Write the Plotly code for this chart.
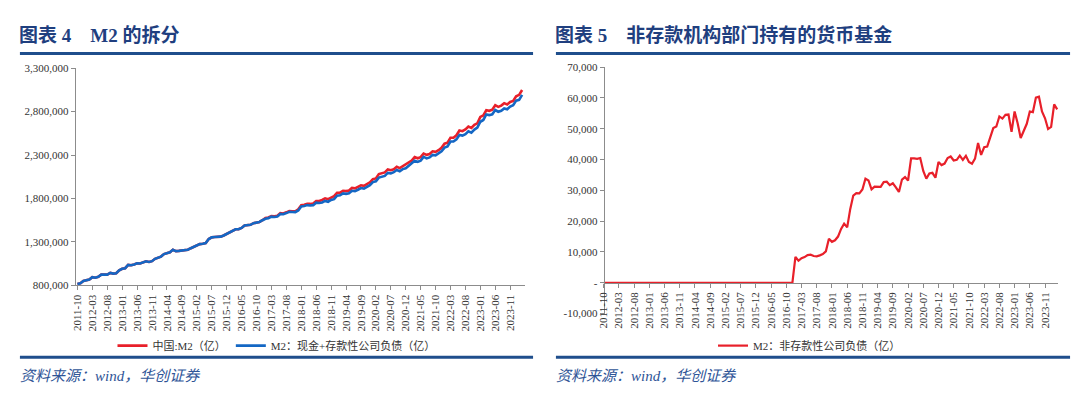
import plotly.graph_objects as go
import pandas as pd

# Monthly categories 2011-10 .. 2024-03
months = [p.strftime("%Y-%m") for p in pd.period_range("2011-10", "2024-03", freq="M")]
tick_labels = months[0:150:5]

# 中国:M2 (亿)
m2_total = [
    816829, 825494, 851591,
    855898, 867171, 895565, 889605, 900049, 924992, 925375, 924894, 943688, 936404, 940460, 974149,
    992129, 998600, 1035858, 1032552, 1042169, 1054404, 1052212, 1061256, 1077379, 1070242, 1079257, 1106525,
    1123521, 1131650, 1160687, 1168812, 1182300, 1209587, 1194249, 1197499, 1202051, 1199236, 1211000, 1228375,
    1242710, 1252300, 1275300, 1280000, 1286700, 1333400, 1353200, 1356900, 1359800, 1361000, 1374900, 1392278,
    1416300, 1424200, 1446200, 1446100, 1461100, 1490500, 1491600, 1497500, 1516400, 1519500, 1530400, 1550067,
    1575900, 1581300, 1599000, 1596300, 1601400, 1631300, 1627600, 1641000, 1655700, 1653400, 1653900, 1676800,
    1722100, 1728000, 1739300, 1737700, 1742600, 1770200, 1772000, 1783000, 1801700, 1791900, 1813200, 1826700,
    1865900, 1867400, 1889400, 1884700, 1891500, 1921400, 1917100, 1932600, 1952100, 1945600, 1965000, 1986500,
    2023100, 2030600, 2080900, 2093500, 2100200, 2134900, 2125500, 2136800, 2164100, 2149700, 2172100, 2186800,
    2213000, 2236000, 2276000, 2262100, 2276000, 2317800, 2302200, 2312300, 2342800, 2336200, 2355200, 2382900,
    2431000, 2441500, 2499400, 2499700, 2527500, 2581500, 2574200, 2595100, 2626600, 2612200, 2647200, 2664300,
    2738100, 2755200, 2814600, 2808500, 2820500, 2873000, 2853600, 2868900, 2896700, 2882300, 2910900, 2922700,
    2976200, 2992500, 3047952,
]

# M2：非存款性公司负债 (亿)
non_deposit = [0] * 63 + [
    8400, 7140, 8000, 8350, 9000, 9100, 8700, 8600, 8900, 9300, 10200, 14300,
    13300, 13800, 15000, 17500, 19200, 18000, 23900, 28300, 29100, 29000, 30300, 33800,
    33200, 30300, 31200, 31100, 31150, 32700, 32800, 31700, 32300, 31000, 29500, 33500,
    34300, 33200, 40400, 40400, 40250, 40500, 36300, 33800, 35500, 35700, 34100, 39200,
    38200, 38700, 40500, 41000, 39700, 39900, 41300, 39900, 41200, 39200, 38650, 40300,
    45400, 41500, 44000, 44200, 47500, 50200, 50700, 54000, 53300, 54500, 54600, 49000,
    55600, 51800, 47000, 49500, 51600, 55600, 55400, 60100, 60400, 55600, 53400, 49900,
    50600, 57900, 56300,
]

# M2：现金+存款性公司负债 = M2 - 非存款性公司负债
m2_deposit = [a - b for a, b in zip(m2_total, non_deposit)]

left_y_ticks = [800000, 1300000, 1800000, 2300000, 2800000, 3300000]
right_y_ticks = [-10000, 0, 10000, 20000, 30000, 40000, 50000, 60000, 70000]
right_y_text = ["-10,000", "-", "10,000", "20,000", "30,000", "40,000", "50,000", "60,000", "70,000"]

RED = "#E8202A"
BLUE = "#1467C4"
NAVY = "#1F3F7F"
W, H = 1080, 404

def px(x):
    return x / W

def py(y):
    return 1 - y / H

fig = go.Figure()
fig.add_trace(go.Scatter(x=months, y=m2_total, mode="lines", name="中国:M2（亿）",
                         line=dict(color=RED, width=2.6), xaxis="x", yaxis="y", legend="legend"))
fig.add_trace(go.Scatter(x=months, y=m2_deposit, mode="lines", name="M2：现金+存款性公司负债（亿）",
                         line=dict(color=BLUE, width=2.6), xaxis="x", yaxis="y", legend="legend"))
fig.add_trace(go.Scatter(x=months, y=non_deposit, mode="lines", name="M2：非存款性公司负债（亿）",
                         line=dict(color=RED, width=2.2), xaxis="x2", yaxis="y2", legend="legend2"))

tickfont = dict(family="Liberation Serif, Noto Sans CJK SC", size=11, color="#333333")
axis_common = dict(showgrid=False, zeroline=False, showline=True, linecolor="#8C8C8C", linewidth=1,
                   ticks="outside", ticklen=4, tickcolor="#8C8C8C", tickfont=tickfont)

ly0, ly1 = py(288), py(64)
ry0, ry1 = py(317), py(63)

fig.update_layout(
    width=W, height=H, margin=dict(l=0, r=0, t=0, b=0),
    paper_bgcolor="white", plot_bgcolor="white",
    showlegend=True,
    xaxis=dict(axis_common, domain=[px(70), px(522)], anchor="y", type="category",
               range=[-0.6, 150], tickmode="array", tickvals=tick_labels, ticktext=tick_labels,
               tickangle=-90),
    yaxis=dict(axis_common, domain=[ly0, ly1], anchor="x", range=[800000, 3300000],
               tickmode="array", tickvals=left_y_ticks, tickformat=",d"),
    xaxis2=dict(axis_common, domain=[px(601), px(1058)], anchor="free",
                position=ry0 + (ry1 - ry0) / 8, type="category",
                range=[0, 149.3], tickmode="array", tickvals=tick_labels, ticktext=tick_labels,
                tickangle=-90),
    yaxis2=dict(axis_common, domain=[ry0, ry1], anchor="free", position=px(601),
                range=[-10000, 70000], tickmode="array", tickvals=right_y_ticks, ticktext=right_y_text),
    legend=dict(orientation="h", x=px(272), xanchor="center", y=py(350), yanchor="middle",
                font=dict(family="Liberation Serif, Noto Sans CJK SC", size=11, color="#333333"),
                bgcolor="rgba(0,0,0,0)", itemwidth=30),
    legend2=dict(orientation="h", x=px(808), xanchor="center", y=py(350), yanchor="middle",
                 font=dict(family="Liberation Serif, Noto Sans CJK SC", size=11, color="#333333"),
                 bgcolor="rgba(0,0,0,0)", itemwidth=30),
    shapes=[
        dict(type="line", xref="paper", yref="paper", x0=px(14), x1=px(530), y0=py(49), y1=py(49),
             line=dict(color="#1F4E8C", width=3)),
        dict(type="line", xref="paper", yref="paper", x0=px(553), x1=px(1070), y0=py(49), y1=py(49),
             line=dict(color="#1F4E8C", width=3)),
        dict(type="line", xref="paper", yref="paper", x0=px(14), x1=px(530), y0=py(362), y1=py(362),
             line=dict(color="#1F4E8C", width=3)),
        dict(type="line", xref="paper", yref="paper", x0=px(553), x1=px(1070), y0=py(362), y1=py(362),
             line=dict(color="#1F4E8C", width=3)),
    ],
    annotations=[
        dict(text="<b>图表 4　M2 的拆分</b>", xref="paper", yref="paper", x=px(11), y=py(30),
             xanchor="left", yanchor="middle", showarrow=False,
             font=dict(family="Liberation Serif, Noto Sans CJK SC", size=19, color=NAVY)),
        dict(text="<b>图表 5　非存款机构部门持有的货币基金</b>", xref="paper", yref="paper", x=px(550), y=py(30),
             xanchor="left", yanchor="middle", showarrow=False,
             font=dict(family="Liberation Serif, Noto Sans CJK SC", size=19, color=NAVY)),
        dict(text="<i>资料来源：wind，华创证券</i>", xref="paper", yref="paper", x=px(12), y=py(381),
             xanchor="left", yanchor="middle", showarrow=False,
             font=dict(family="Liberation Serif, Noto Sans CJK SC", size=15, color="#2F5597")),
        dict(text="<i>资料来源：wind，华创证券</i>", xref="paper", yref="paper", x=px(551), y=py(381),
             xanchor="left", yanchor="middle", showarrow=False,
             font=dict(family="Liberation Serif, Noto Sans CJK SC", size=15, color="#2F5597")),
    ],
)

fig.write_html("out.html", config={"displayModeBar": False},
               post_script="document.body.style.margin='0';document.body.style.overflow='hidden';")
